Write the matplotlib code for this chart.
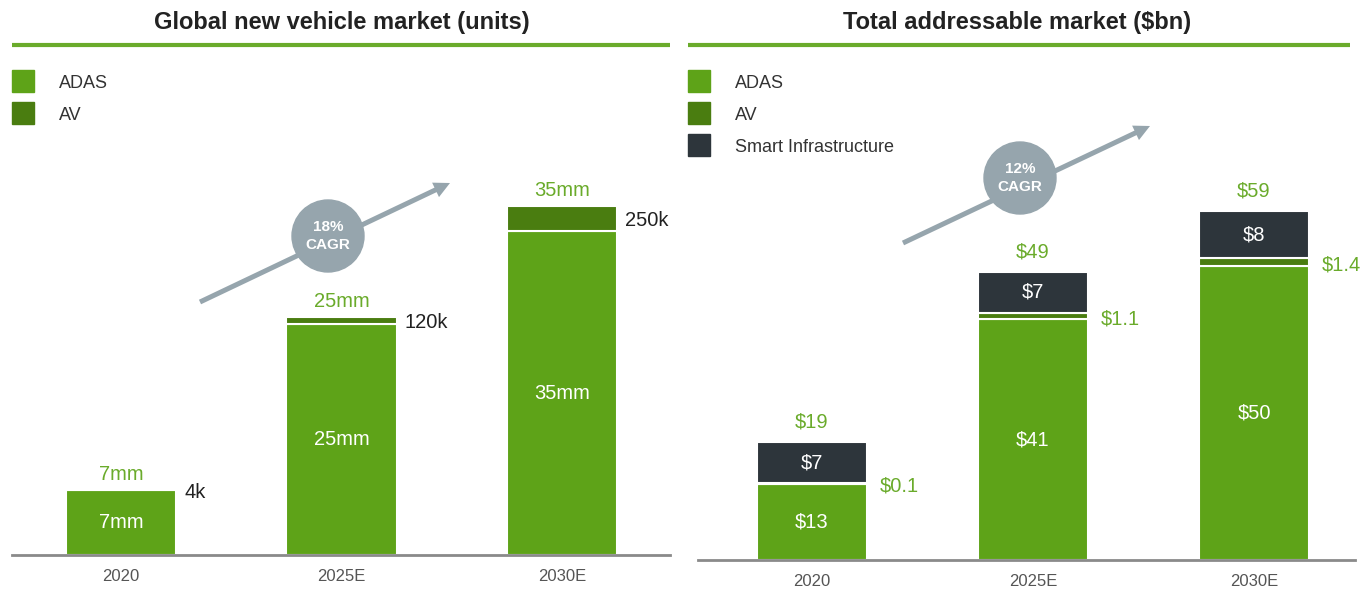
import matplotlib.pyplot as plt
from matplotlib.patches import Rectangle, Circle, FancyArrow

plt.rcParams['font.family'] = ['Liberation Sans', 'DejaVu Sans']

# data
years = ['2020', '2025E', '2030E']

# left: global new vehicle market (mm units); AV band drawn as shown in picture
units_adas = [7, 25, 35]
units_av_band = [0, 0.7, 2.7]
units_total_lbl = ['7mm', '25mm', '35mm']
units_adas_lbl = ['7mm', '25mm', '35mm']
units_av_lbl = ['4k', '120k', '250k']

# right: total addressable market ($bn)
tam_adas = [13, 41, 50]
tam_av = [0.1, 1.1, 1.4]
tam_si = [7, 7, 8]
tam_total_lbl = ['$19', '$49', '$59']
tam_adas_lbl = ['$13', '$41', '$50']
tam_av_lbl = ['$0.1', '$1.1', '$1.4']
tam_si_lbl = ['$7', '$7', '$8']

c_adas = '#5ea318'
c_av = '#4a7d10'
c_si = '#2d353b'
c_lbl = '#6aab2b'
c_grey = '#96a5ad'

W, H = 1372, 590
fig = plt.figure(figsize=(W / 100, H / 100), dpi=100)

# overlay in pixel coords for titles, rules, legends, arrows
ov = fig.add_axes([0, 0, 1, 1])
ov.set_xlim(0, W)
ov.set_ylim(H, 0)
ov.axis('off')

def px_axes(x0, x1, ybase, ytop):
    return fig.add_axes([x0 / W, (H - ybase) / H, (x1 - x0) / W, (ybase - ytop) / H])

def header(title, xc, x0, x1):
    ov.text(xc, 23, title, ha='center', va='center', fontsize=17, fontweight='bold', color='#222222')
    ov.plot([x0, x1], [45, 45], color='#6aab2b', lw=3, solid_capstyle='butt')

def legend(x, names, colors):
    for i, (n, c) in enumerate(zip(names, colors)):
        y = 70 + i * 32
        ov.add_patch(Rectangle((x, y), 22, 22, color=c))
        ov.text(x + 47, y + 14, n, va='center', fontsize=13, color='#333333')

def cagr(x0, y0, x1, y1, cx, cy, txt):
    ov.add_patch(FancyArrow(x0, y0, x1 - x0, y1 - y0, width=5, head_width=16, head_length=16,
                            length_includes_head=True, color=c_grey, lw=0))
    ov.add_patch(Circle((cx, cy), 36, color=c_grey, zorder=3))
    ov.text(cx, cy, txt, ha='center', va='center', color='white', fontsize=11,
            fontweight='bold', zorder=4, linespacing=1.4)

def base_axes(ax, xlim, ylim):
    ax.set_facecolor('none')
    ax.set_xlim(*xlim)
    ax.set_ylim(*ylim)
    for s in ['top', 'right', 'left']:
        ax.spines[s].set_visible(False)
    ax.spines['bottom'].set_color('#8a8a8a')
    ax.spines['bottom'].set_linewidth(2)
    ax.set_yticks([])
    ax.set_xticks(range(len(years)))
    ax.set_xticklabels(years, fontsize=12, color='#555555')
    ax.tick_params(axis='x', length=0, pad=10)

header('Global new vehicle market (units)', 342, 12, 670)
header('Total addressable market ($bn)', 1017, 688, 1350)
legend(12, ['ADAS', 'AV'], [c_adas, c_av])
legend(688, ['ADAS', 'AV', 'Smart Infrastructure'], [c_adas, c_av, c_si])
cagr(200, 302, 450, 183, 328, 236, '18%\nCAGR')
cagr(903, 243, 1150, 126, 1020, 178, '12%\nCAGR')

x = list(range(len(years)))
bw = 0.5
pt = 72 / 100  # pixels -> points
fs = 14.5

# left chart
ax1 = px_axes(12, 670, 555, 45)
base_axes(ax1, (-0.494, 2.49), (0, 55.1))
ax1.bar(x, units_adas, bw, color=c_adas, edgecolor='white', linewidth=1.5)
ax1.bar(x, units_av_band, bw, bottom=units_adas, color=c_av, edgecolor='white', linewidth=1.5)
for i in x:
    top = units_adas[i] + units_av_band[i]
    ax1.annotate(units_total_lbl[i], (i, top), xytext=(0, 16 * pt), textcoords='offset points',
                 ha='center', va='center', fontsize=fs, color=c_lbl)
    ax1.text(i, units_adas[i] / 2, units_adas_lbl[i], ha='center', va='center', fontsize=fs, color='white')
    ax1.annotate(units_av_lbl[i], (i + bw / 2, units_adas[i] + units_av_band[i] / 2),
                 xytext=(8 * pt, -2 * pt), textcoords='offset points',
                 ha='left', va='center', fontsize=fs, color='#222222')

# right chart
ax2 = px_axes(698, 1355, 560, 45)
base_axes(ax2, (-0.516, 2.457), (0, 87.7))
bot_si = [a + v for a, v in zip(tam_adas, tam_av)]
ax2.bar(x, tam_adas, bw, color=c_adas, edgecolor='white', linewidth=1.5)
ax2.bar(x, tam_av, bw, bottom=tam_adas, color=c_av, edgecolor='white', linewidth=1.5)
ax2.bar(x, tam_si, bw, bottom=bot_si, color=c_si, edgecolor='white', linewidth=1.5)
for i in x:
    top = bot_si[i] + tam_si[i]
    ax2.annotate(tam_total_lbl[i], (i, top), xytext=(0, 20 * pt), textcoords='offset points',
                 ha='center', va='center', fontsize=fs, color=c_lbl)
    ax2.text(i, tam_adas[i] / 2, tam_adas_lbl[i], ha='center', va='center', fontsize=fs, color='white')
    ax2.text(i, bot_si[i] + tam_si[i] / 2, tam_si_lbl[i], ha='center', va='center', fontsize=fs, color='white')
    ax2.annotate(tam_av_lbl[i], (i + bw / 2, tam_adas[i] + tam_av[i] / 2),
                 xytext=(12 * pt, -3 * pt), textcoords='offset points',
                 ha='left', va='center', fontsize=fs, color=c_lbl)

fig.savefig('out.png', dpi=100)
